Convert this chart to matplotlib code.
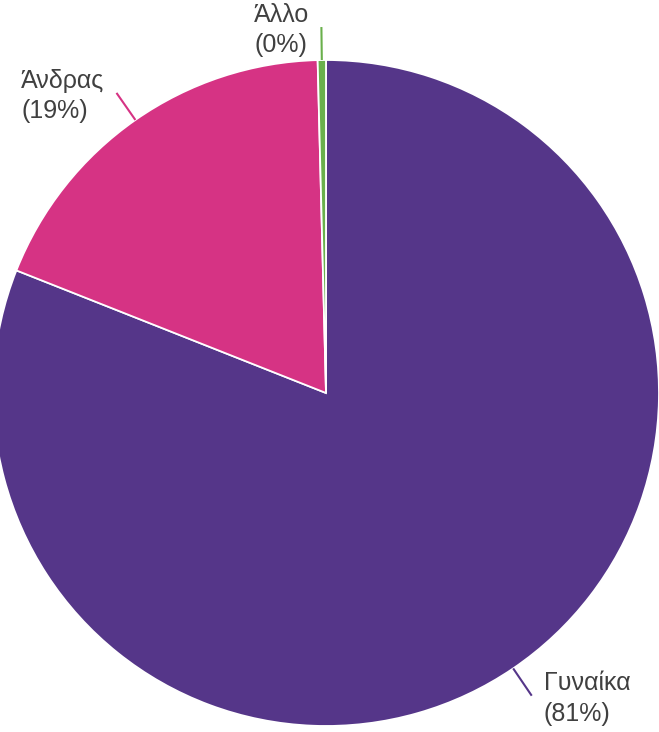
import numpy as np
import matplotlib
matplotlib.use('Agg')
import matplotlib.pyplot as plt

plt.rcParams['font.family'] = ['Liberation Sans', 'DejaVu Sans']

# data
labels = ['Γυναίκα', 'Άνδρας', 'Άλλο']
values = [81.0, 18.6, 0.4]
shown_pct = ['81%', '19%', '0%']
colors = ['#553689', '#d63384', '#6ab04c']

W, H = 659, 732
fig = plt.figure(figsize=(W / 100, H / 100), dpi=100)
ax = fig.add_axes([0, 0, 1, 1])

cx, cy, r = 326, H - 393, 333
wedges, _ = ax.pie(values, colors=colors, startangle=90, counterclock=False,
                   center=(cx, cy), radius=r, frame=True,
                   wedgeprops=dict(edgecolor='white', linewidth=1.3))
ax.set_xlim(0, W)
ax.set_ylim(0, H)
ax.set_aspect('equal')
ax.axis('off')

# leader lines + labels
for w, lab, pct, col in zip(wedges, labels, shown_pct, colors):
    mid = np.deg2rad((w.theta1 + w.theta2) / 2)
    x0, y0 = cx + r * np.cos(mid), cy + r * np.sin(mid)
    x1, y1 = cx + (r + 33) * np.cos(mid), cy + (r + 33) * np.sin(mid)
    ax.plot([x0, x1], [y0, y1], color=col, lw=1.5, solid_capstyle='butt')
    if np.cos(mid) >= 0.05:
        ha, tx = 'left', x1 + 12
    else:
        ha, tx = 'right', x1 - 12
    ax.text(tx, y1 - 3, lab + '\n(' + pct + ')', ha=ha, va='center',
            multialignment='left', fontsize=18, color='#404040',
            linespacing=1.35)

fig.savefig('out.png', dpi=100)
